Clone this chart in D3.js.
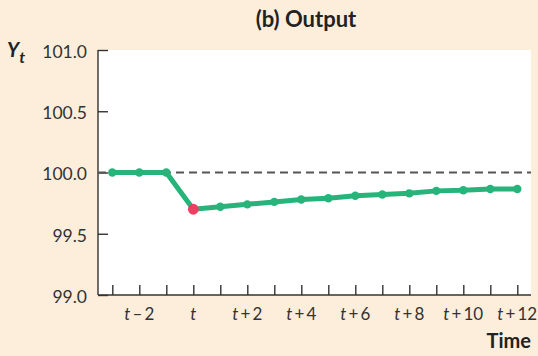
<!DOCTYPE html>
<html>
<head>
<meta charset="utf-8">
<script src="https://cdn.jsdelivr.net/npm/d3@7/dist/d3.min.js"></script>
<style>
  html, body { margin: 0; padding: 0; background: #fdeedc; }
  svg { display: block; font-family: Lato, "Open Sans", sans-serif; }
</style>
</head>
<body>
<svg id="chart" width="538" height="356"></svg>
<script>
// Periods relative to t (t-3 ... t+12)
const periods = [-3, -2, -1, 0, 1, 2, 3, 4, 5, 6, 7, 8, 9, 10, 11, 12];
// Output level in each period
const output = [100.0, 100.0, 100.0, 99.70, 99.72, 99.74, 99.76, 99.78, 99.79, 99.81, 99.82, 99.83, 99.85, 99.855, 99.865, 99.865];
// Periods that carry a label on the time axis
const labelledPeriods = [-2, 0, 2, 4, 6, 8, 10, 12];
// Vertical axis ticks
const yTicks = [99.0, 99.5, 100.0, 100.5, 101.0];
const baseline = 100.0;
const shockPeriod = 0;

(function draw() {
  const svg = d3.select("#chart");
  const pLeft = 98, pRight = 531, pTop = 50, pBottom = 295;

  const x = d3.scaleLinear().domain([-3, 12]).range([112.3, 517.3]);
  const y = d3.scaleLinear().domain([99, 101]).range([pBottom, pTop]);

  // Plot panel
  svg.append("rect")
    .attr("x", pLeft).attr("y", pTop)
    .attr("width", pRight - pLeft).attr("height", pBottom - pTop)
    .attr("fill", "#ffffff");

  // Left axis with inward ticks
  const yAxis = svg.append("g")
    .attr("transform", `translate(${pLeft},0)`)
    .call(d3.axisRight(y).tickValues(yTicks).tickSize(10).tickFormat(""));
  yAxis.select(".domain").remove();
  yAxis.selectAll(".tick line").attr("stroke", "#333").attr("stroke-width", 1.4);
  svg.append("line")
    .attr("x1", pLeft).attr("x2", pLeft).attr("y1", pTop).attr("y2", pBottom)
    .attr("stroke", "#333").attr("stroke-width", 1.4);

  svg.append("g").selectAll("text")
    .data(yTicks).join("text")
    .attr("x", 87).attr("y", d => y(d))
    .attr("dy", "0.45em")
    .attr("text-anchor", "end")
    .attr("font-size", 17.5)
    .attr("fill", "#333")
    .text(d => d.toFixed(1));

  // Bottom axis with inward ticks
  const xAxis = svg.append("g")
    .attr("transform", `translate(0,${pBottom})`)
    .call(d3.axisTop(x).tickValues(periods).tickSize(10).tickFormat(""));
  xAxis.select(".domain").remove();
  xAxis.selectAll(".tick line").attr("stroke", "#333").attr("stroke-width", 1.4);
  svg.append("line")
    .attr("x1", pLeft).attr("x2", pRight).attr("y1", pBottom).attr("y2", pBottom)
    .attr("stroke", "#333").attr("stroke-width", 1.4);

  const xl = svg.append("g").selectAll("text")
    .data(labelledPeriods).join("text")
    .attr("x", d => x(d)).attr("y", 320)
    .attr("text-anchor", "middle")
    .attr("font-size", 17)
    .attr("fill", "#333");
  xl.append("tspan").attr("font-style", "italic").text("t");
  xl.filter(d => d !== 0).append("tspan")
    .text(d => d < 0 ? "\u2009\u2013\u2009" + Math.abs(d) : "\u2009+\u2009" + d);

  // Baseline reference
  svg.append("line")
    .attr("x1", pLeft).attr("x2", pRight)
    .attr("y1", y(baseline)).attr("y2", y(baseline))
    .attr("stroke", "#555").attr("stroke-width", 2)
    .attr("stroke-dasharray", "8,5");

  // Output path
  const data = periods.map((p, i) => ({ p, v: output[i] }));
  svg.append("path")
    .datum(data)
    .attr("fill", "none")
    .attr("stroke", "#27b47a")
    .attr("stroke-width", 5)
    .attr("stroke-linejoin", "round")
    .attr("d", d3.line().x(d => x(d.p)).y(d => y(d.v)));

  svg.append("g").selectAll("circle")
    .data(data.filter(d => d.p !== shockPeriod)).join("circle")
    .attr("cx", d => x(d.p)).attr("cy", d => y(d.v))
    .attr("r", 4.2)
    .attr("fill", "#27b47a");

  svg.append("circle")
    .datum(data.find(d => d.p === shockPeriod))
    .attr("cx", d => x(d.p)).attr("cy", d => y(d.v))
    .attr("r", 5.4)
    .attr("fill", "#ec3f62");

  // Titles
  svg.append("text")
    .attr("x", 306).attr("y", 27)
    .attr("text-anchor", "middle")
    .attr("font-size", 22).attr("font-weight", "bold")
    .attr("fill", "#222")
    .text("(b) Output");

  const yl = svg.append("text")
    .attr("x", 7).attr("y", 57)
    .attr("font-size", 20).attr("font-weight", "bold").attr("font-style", "italic")
    .attr("fill", "#222");
  yl.append("tspan").text("Y");
  yl.append("tspan").attr("font-size", 16).attr("dx", 0).attr("dy", 6).text("t");

  svg.append("text")
    .attr("x", 531).attr("y", 348)
    .attr("text-anchor", "end")
    .attr("font-size", 20).attr("font-weight", "bold")
    .attr("fill", "#222")
    .text("Time");
})();
</script>
</body>
</html>
